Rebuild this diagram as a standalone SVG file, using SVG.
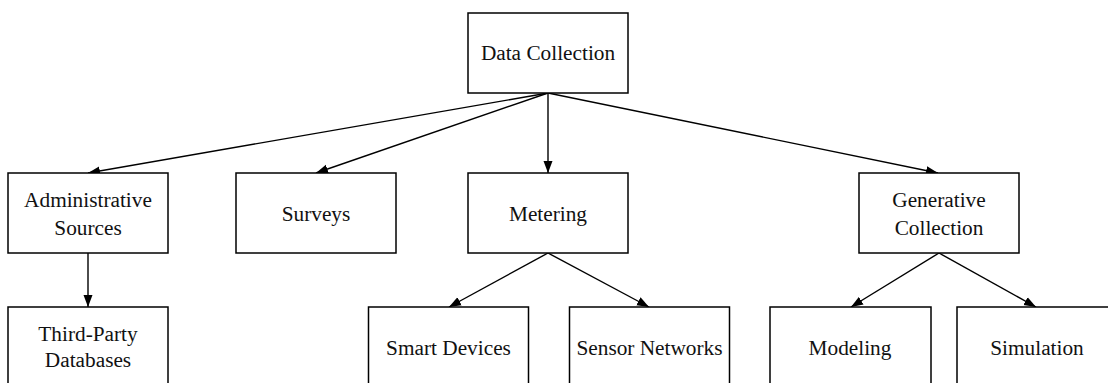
<svg xmlns="http://www.w3.org/2000/svg" width="1108" height="383" viewBox="0 0 1108 383">
  <style>
    .box { fill: #ffffff; stroke: #000000; stroke-width: 1.5; }
    .label { font-family: 'Liberation Serif', 'DejaVu Serif', 'Times New Roman', Times, serif; font-size: 21.3px; fill: #111111; text-anchor: middle; }
    .edge { stroke: #000000; stroke-width: 1.4; fill: none; marker-end: url(#arrow); }
  </style>
  <defs>
    <marker id="arrow" viewBox="0 0 12 10" refX="12" refY="5" markerWidth="12" markerHeight="10" markerUnits="userSpaceOnUse" orient="auto">
      <path d="M0,0.5 L12,5 L0,9.5 Z" fill="#000000"/>
    </marker>
  </defs>
  <rect width="1108" height="383" fill="#ffffff"/>

  <g id="connectors">
    <line class="edge" x1="548" y1="93" x2="88" y2="173"/>
    <line class="edge" x1="548" y1="93" x2="316" y2="173"/>
    <line class="edge" x1="548" y1="93" x2="548" y2="173"/>
    <line class="edge" x1="548" y1="93" x2="938" y2="173"/>
    <line class="edge" x1="88" y1="253" x2="88" y2="307"/>
    <line class="edge" x1="548" y1="253" x2="449" y2="307"/>
    <line class="edge" x1="548" y1="253" x2="649" y2="307"/>
    <line class="edge" x1="939" y1="253" x2="851" y2="307"/>
    <line class="edge" x1="939" y1="253" x2="1036" y2="307"/>
  </g>

  <g id="data-collection">
    <rect class="box" x="468" y="13" width="160" height="80"/>
    <text class="label" x="548" y="60">Data Collection</text>
  </g>
  <g id="administrative-sources">
    <rect class="box" x="8" y="173" width="160" height="80"/>
    <text class="label" x="88" y="207">Administrative</text>
    <text class="label" x="88" y="234.5">Sources</text>
  </g>
  <g id="surveys">
    <rect class="box" x="236" y="173" width="160" height="80"/>
    <text class="label" x="316" y="221">Surveys</text>
  </g>
  <g id="metering">
    <rect class="box" x="468" y="173" width="160" height="80"/>
    <text class="label" x="548" y="221">Metering</text>
  </g>
  <g id="generative-collection">
    <rect class="box" x="859" y="173" width="160" height="80"/>
    <text class="label" x="939" y="207">Generative</text>
    <text class="label" x="939" y="234.5">Collection</text>
  </g>
  <g id="third-party-databases">
    <rect class="box" x="8" y="307" width="160" height="80"/>
    <text class="label" x="88" y="341">Third-Party</text>
    <text class="label" x="88" y="367">Databases</text>
  </g>
  <g id="smart-devices">
    <rect class="box" x="368.5" y="307" width="160" height="80"/>
    <text class="label" x="448.5" y="354.5">Smart Devices</text>
  </g>
  <g id="sensor-networks">
    <rect class="box" x="569.5" y="307" width="160" height="80"/>
    <text class="label" x="649.5" y="354.5">Sensor Networks</text>
  </g>
  <g id="modeling">
    <rect class="box" x="770" y="307" width="161" height="80"/>
    <text class="label" x="850" y="354.5">Modeling</text>
  </g>
  <g id="simulation">
    <rect class="box" x="957" y="307" width="160" height="80"/>
    <text class="label" x="1037" y="354.5">Simulation</text>
  </g>
</svg>
